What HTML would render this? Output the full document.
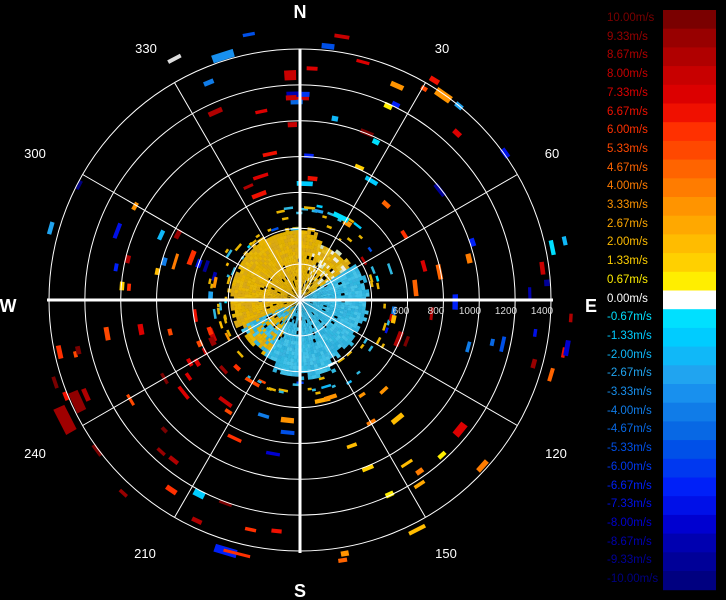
<!DOCTYPE html>
<html><head><meta charset="utf-8"><style>
html,body{margin:0;padding:0;background:#000;width:726px;height:600px;overflow:hidden}
svg{position:absolute;left:0;top:0}
.lb{position:absolute;font-family:"Liberation Sans",sans-serif;font-size:11.5px;left:607px}
</style></head><body>
<svg id="s" width="726" height="600" xmlns="http://www.w3.org/2000/svg">
<rect width="726" height="600" fill="#000"/>
<g id="data"></g>
<g id="grid" fill="none" stroke="#fff"></g>
<g font-family="Liberation Sans, sans-serif" fill="#fff">
<text x="300" y="18" font-size="18" font-weight="bold" text-anchor="middle">N</text>
<text x="300" y="597" font-size="18" font-weight="bold" text-anchor="middle">S</text>
<text x="8" y="312" font-size="18" font-weight="bold" text-anchor="middle">W</text>
<text x="591" y="312" font-size="18" font-weight="bold" text-anchor="middle">E</text>
<g font-size="13" text-anchor="middle">
<text x="442" y="53">30</text><text x="552" y="158">60</text>
<text x="556" y="458">120</text><text x="446" y="558">150</text>
<text x="145" y="558">210</text><text x="35" y="458">240</text>
<text x="35" y="158">300</text><text x="146" y="53">330</text>
</g>
<g font-size="10" text-anchor="middle" fill="#ddd">
<text x="401" y="314">600</text><text x="436" y="314">800</text><text x="470" y="314">1000</text>
<text x="506" y="314">1200</text><text x="542" y="314">1400</text>
</g>
</g>
<g id="bar"></g>
</svg>
<div id="labels"></div>
<script>
var pos=["#7a0000","#980000","#b00000","#c80000","#dc0000","#f01000","#ff3000","#ff4800","#ff6400","#ff7c00","#ff9400","#ffa800","#ffbc00","#ffd000","#ffee00"];
var neg=["#00e0ff","#00ccff","#10b8f8","#20a4f0","#1890ee","#107ce8","#0868e4","#0050e8","#0038f0","#0020f8","#0010e8","#0000d0","#0000b0","#000098","#000080"];
var NS="http://www.w3.org/2000/svg";
function el(t,a,p){var e=document.createElementNS(NS,t);for(var k in a)e.setAttribute(k,a[k]);p.appendChild(e);return e;}
var bar=document.getElementById('bar'),L=document.getElementById('labels');
var cols=pos.concat(["#ffffff"]).concat(neg),h=18.7;
for(var i=0;i<31;i++){el('rect',{x:663,y:10+i*h,width:53,height:h+0.5,fill:cols[i]},bar);
 var v=(10-i*0.6667);var t=(Math.abs(v)<0.01?"0.00":v.toFixed(2))+"m/s";
 var d=document.createElement('div');d.className='lb';d.style.top=(10+i*h+2)+'px';
 d.style.color=i==15?'#fff':cols[i];d.textContent=t;L.appendChild(d);}
var cx=300,cy=300,R=251;
var g=document.getElementById('grid');
for(var k=1;k<=7;k++)el('circle',{cx:cx,cy:cy,r:R*k/7,'stroke-width':1},g);
for(var a=30;a<360;a+=30){if(a%90==0)continue;var r=a*Math.PI/180;
 el('line',{x1:cx,y1:cy,x2:cx+R*Math.sin(r),y2:cy-R*Math.cos(r),'stroke-width':1},g);}
el('line',{x1:47,y1:cy,x2:553,y2:cy,'stroke-width':3},g);
el('line',{x1:cx,y1:49,x2:cx,y2:553,'stroke-width':3},g);
var seed=7;function rnd(){seed=(seed*16807)%2147483647;return seed/2147483647;}
var D=document.getElementById('data');
function cell(a0,a1,r0,r1,c){var A0=a0*Math.PI/180,A1=a1*Math.PI/180;
 function p(rr,aa){return (cx+rr*Math.sin(aa)).toFixed(1)+","+(cy-rr*Math.cos(aa)).toFixed(1);}
 el('polygon',{points:p(r0,A0)+" "+p(r0,A1)+" "+p(r1,A1)+" "+p(r1,A0),fill:c},D);}
var yel=["#e8b400","#dcaa10","#e6b808","#d8a818","#e0b000"],cy2=["#30b8e0","#40c0e8","#2cb0dc","#48c4e8","#38b4e0"];
for(var a=0;a<360;a+=3){for(var r=3;r<78;r+=3.5){
 var ang=a,c=null,maxr;
 if(ang>=245||ang<15){maxr=ang>300?68:67;c=yel;}
 else if(ang>=15&&ang<55){maxr=58;c=rnd()<0.6?yel:["#f0f0e0","#d0e0c0","#e8c020"];}
 else if(ang>=55&&ang<205){maxr=(ang>150&&ang<200)?74:64;c=cy2;}
 else {maxr=62;c=rnd()<0.5?yel:cy2;}
 maxr+=rnd()*5-2;
 if(r>maxr)continue;var x=rnd();
 if(x<0.06&&r<45){cell(a,a+3,r,r+3,"#000");continue;}
 cell(a,a+3.2,r,r+3.7,c[Math.floor(rnd()*c.length)]);}}
for(var a=0;a<360;a+=2.5){if(rnd()<0.35)continue;var r=70+rnd()*25;
 var c=rnd()<0.5?yel[0]:(rnd()<0.5?cy2[0]:cols[Math.floor(rnd()*31)]);cell(a,a+2+rnd()*5,r,r+2.5,c);}
var hot=[[330,360],[0,30],[30,80],[220,260],[130,170],[180,220],[270,300],[80,110]];
for(var i=0;i<140;i++){var s=hot[Math.floor(rnd()*hot.length)];var a=s[0]+rnd()*(s[1]-s[0]);
 var r=85+rnd()*185;var w=(6+rnd()*10)/r*57.3;var ci;
 if(a>200&&a<260) ci=Math.floor(rnd()*8);
 else if(a>120&&a<180) ci=8+Math.floor(rnd()*7);
 else if(a>300||a<20) ci=rnd()<0.5?Math.floor(rnd()*6):17+Math.floor(rnd()*13);
 else ci=Math.floor(rnd()*31);
 cell(a,a+w,r,r+3+rnd()*2.5,cols[ci]);}
cell(356,359,220,230,"#c80000");cell(356,359,173,178,"#c80000");cell(356,359,200,205,"#c80000");
cell(340,345,252,260,"#1890ee");cell(331,334,270,274,"#ddd");
cell(240,246,258,270,"#a00000");cell(243,248,240,250,"#900000");
cell(194,199,258,266,"#0020f8");cell(191,197,260,263,"#ff3000");
cell(33,37,246,254,"#ff9400");cell(151,155,256,260,"#ffbc00");
cell(127,131,202,210,"#dc0000");cell(206,209,215,222,"#00ccff");
</script>
</body></html>
